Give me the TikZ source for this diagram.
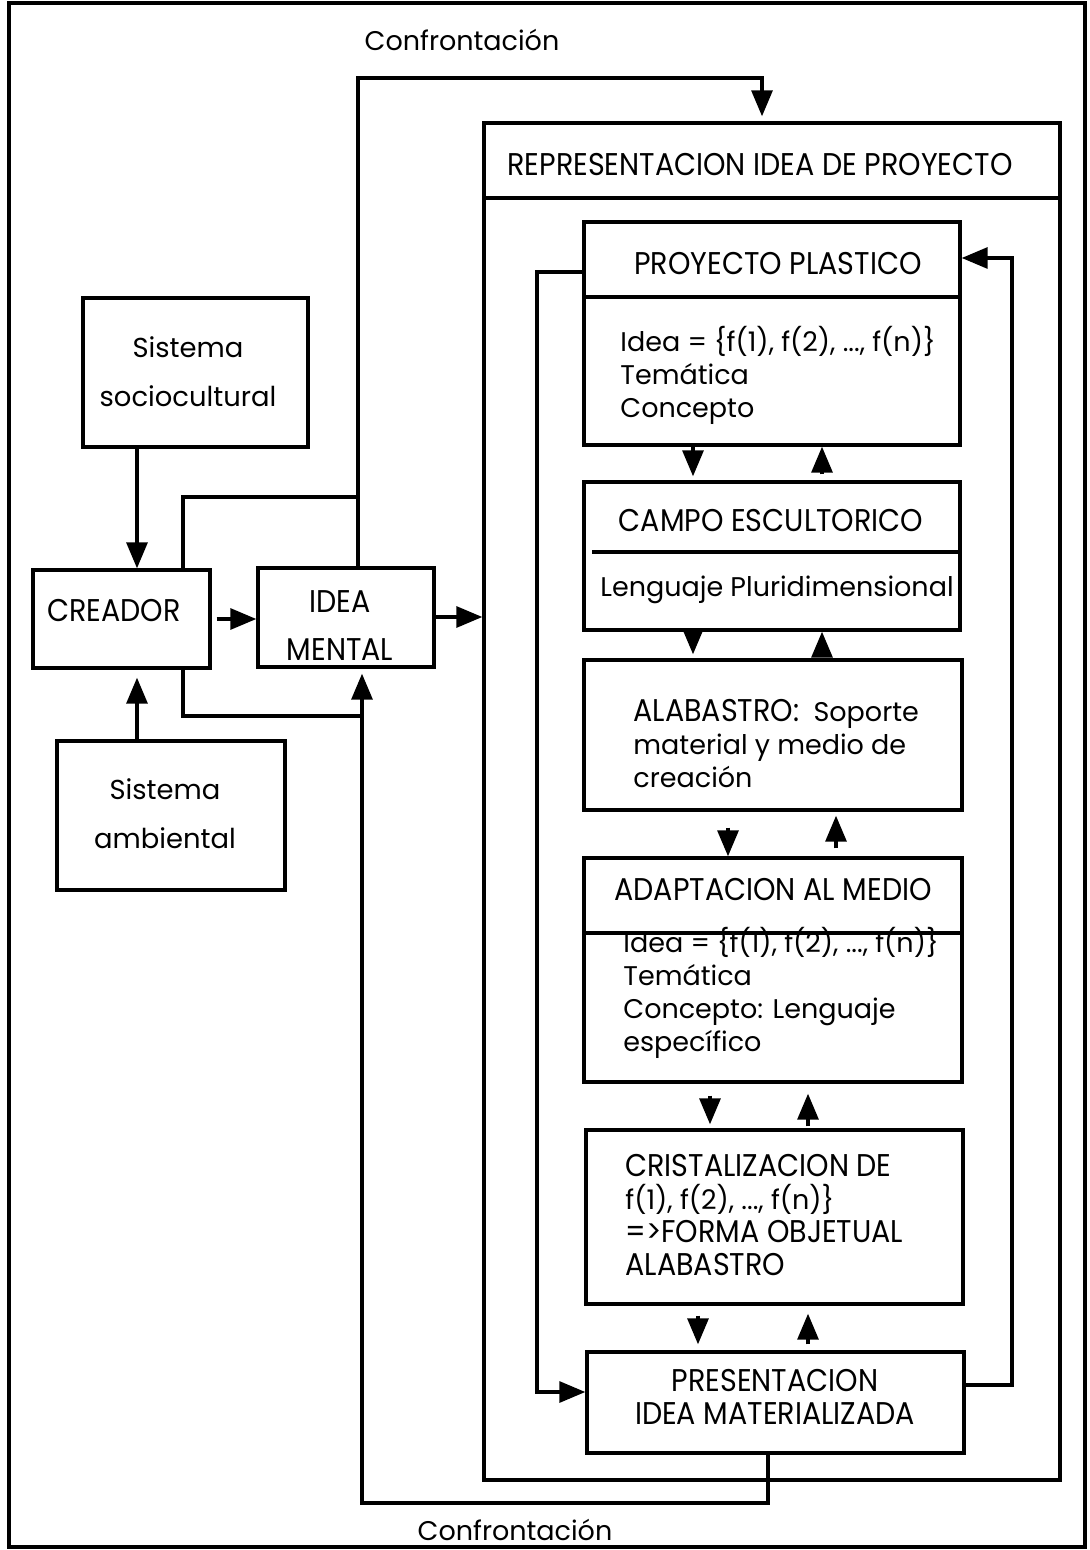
\documentclass[tikz,border=0pt]{standalone}
\usepackage{fontspec}
\setmainfont{Poppins}
\newfontfamily\capsf{Poppins}[FakeStretch=0.91]
\usetikzlibrary{arrows.meta}
\begin{document}
\begin{tikzpicture}[x=0.5pt,y=-0.5pt,
  box/.style={draw, line width=1.7pt, inner sep=0pt},
  hdr/.style={inner sep=0pt, font=\capsf\fontsize{15.7}{16.5}\selectfont},
  body/.style={inner sep=0pt, align=left, font=\fontsize{13.5}{16.5}\selectfont},
  wide/.style={inner sep=0pt, align=center, font=\fontsize{13.7}{24.5}\selectfont},
  divider/.style={line width=1.7pt},
  conn/.style={line width=1.6pt},
  arr/.style={conn, -{Triangle[length=13pt,width=10.5pt]}}]
\useasboundingbox (0,0) rectangle (1090,1550);
% outer frame
\node[draw, line width=1.6pt, minimum width=538pt, minimum height=772pt, inner sep=0pt] (frame) at (547,775) {};
% boxes
\node[box, minimum width=112.5pt, minimum height=74.5pt] (soc) at (195.5,372.5) {};
\node[box, minimum width=114pt, minimum height=74.5pt] (amb) at (171,815.5) {};
\node[box, minimum width=88.5pt, minimum height=49pt] (creador) at (121.5,619) {};
\node[box, minimum width=88pt, minimum height=49.5pt] (idea) at (346,617.5) {};
\node[box, minimum width=288pt, minimum height=678.5pt] (rep) at (772,801.5) {};
\node[box, minimum width=188pt, minimum height=111.5pt] (pp) at (772,333.5) {};
\node[box, minimum width=188pt, minimum height=74pt] (campo) at (772,556) {};
\node[box, minimum width=189pt, minimum height=75pt] (alab) at (773,735) {};
\node[box, minimum width=189pt, minimum height=112pt] (adap) at (773,970) {};
\node[box, minimum width=188.5pt, minimum height=87pt] (crist) at (774.5,1217) {};
\node[box, minimum width=188.5pt, minimum height=50.5pt] (pres) at (775.5,1402.5) {};
% dividers
\draw[divider] (rep.west |- 0,198) -- (rep.east |- 0,198);
\draw[divider] (pp.west |- 0,297) -- (pp.east |- 0,297);
\draw[divider] (592,552) -- (campo.east |- 0,552);
\draw[divider] (adap.west |- 0,933) -- (adap.east |- 0,933);
% texts
\node[body] (tconf1) at (462,40) {Confrontación};
\node[body] (tconf2) at (515,1530) {Confrontación};
\node[hdr] (trep) at (760,165) {REPRESENTACION IDEA DE PROYECTO};
\node[hdr] (tpp) at (778,264) {PROYECTO PLASTICO};
\node[body, anchor=west] (tppb) at (620,375) {Idea = \{f(1), f(2), ..., f(n)\}\\Temática\\Concepto};
\node[hdr] (tcampo) at (771,521) {CAMPO ESCULTORICO};
\node[body] (tcampob) at (777,590) {Lenguaje Pluridimensional};
\node[body, anchor=west] (talab) at (633,744) {{\capsf\fontsize{15.7}{16.5}\selectfont ALABASTRO:}\ \ Soporte\\material y medio de\\creación};
\node[hdr] (tadap) at (773,890) {ADAPTACION AL MEDIO};
\node[body, anchor=west] (tadapb) at (623,993) {Idea = \{f(1), f(2), ..., f(n)\}\\Temática\\Concepto: Lenguaje\\específico};
\node[body, anchor=west, font=\capsf\fontsize{15.7}{16.5}\selectfont] (tcrist) at (625,1215.5) {CRISTALIZACION DE\\{\normalfont\fontsize{13.5}{16.5}\selectfont f(1), f(2), ..., f(n)\}}\\=>FORMA OBJETUAL\\ALABASTRO};
\node[hdr, align=center] (tpres) at (775,1397) {PRESENTACION\\IDEA MATERIALIZADA};
\node[wide] (tsoc) at (188,371.5) {Sistema\\sociocultural};
\node[wide] (tamb) at (165,814) {Sistema\\ambiental};
\node[hdr] (tcre) at (114,611) {CREADOR};
\node[hdr, align=center, font=\capsf\fontsize{15.7}{24}\selectfont] (tidea) at (340,626) {IDEA\\MENTAL};
% left side connectors
\draw[arr] (soc.south -| 137,0) -- (creador.north -| 137,0);
\draw[arr] (amb.north -| 137,0) -- ([yshift=-4pt]creador.south -| 137,0);
\draw[arr] ([xshift=2.5pt]creador.east |- 0,619) -- (idea.west |- 0,619);
\draw[arr] (idea.east |- 0,617) -- (rep.west |- 0,617);
\draw[conn] (creador.north -| 183,0) -- (183,497) -- (358,497);
\draw[conn] (creador.south -| 183,0) -- (183,716) -- (362,716);
% confrontation loops
\draw[arr] (idea.north -| 358,0) -- (358,78) -| ([yshift=2.5pt]rep.north -| 762,0);
\draw[arr] (pres.south -| 768,0) -- (768,1503) -| ([yshift=-2.5pt]idea.south -| 362,0);
% inner loops
\draw[arr] (pp.west |- 0,272) -- (537,272) |- (pres.west |- 0,1392);
\draw[arr] (pres.east |- 0,1385) -- (1012,1385) |- (pp.east |- 0,258);
% vertical arrows between inner boxes
\draw[arr, shorten >=2pt] (pp.south -| 693,0) -- (campo.north -| 693,0);
\draw[arr, shorten <=3pt] (campo.north -| 822,0) -- (pp.south -| 822,0);
\draw[arr, shorten >=2pt] (campo.south -| 693,0) -- (alab.north -| 693,0);
\draw[arr, shorten <=3pt] (alab.north -| 822,0) -- (campo.south -| 822,0);
\draw[arr, shorten <=8pt] (alab.south -| 728,0) -- (adap.north -| 728,0);
\draw[arr, shorten <=4pt, shorten >=2pt] (adap.north -| 836,0) -- (alab.south -| 836,0);
\draw[arr, shorten <=6pt, shorten >=2pt] (adap.south -| 710,0) -- (crist.north -| 710,0);
\draw[arr, shorten <=1pt, shorten >=5pt] (crist.north -| 808,0) -- (adap.south -| 808,0);
\draw[arr, shorten <=5pt, shorten >=3pt] (crist.south -| 698,0) -- (pres.north -| 698,0);
\draw[arr, shorten <=3pt, shorten >=4pt] (pres.north -| 808,0) -- (crist.south -| 808,0);
\end{tikzpicture}
\end{document}
